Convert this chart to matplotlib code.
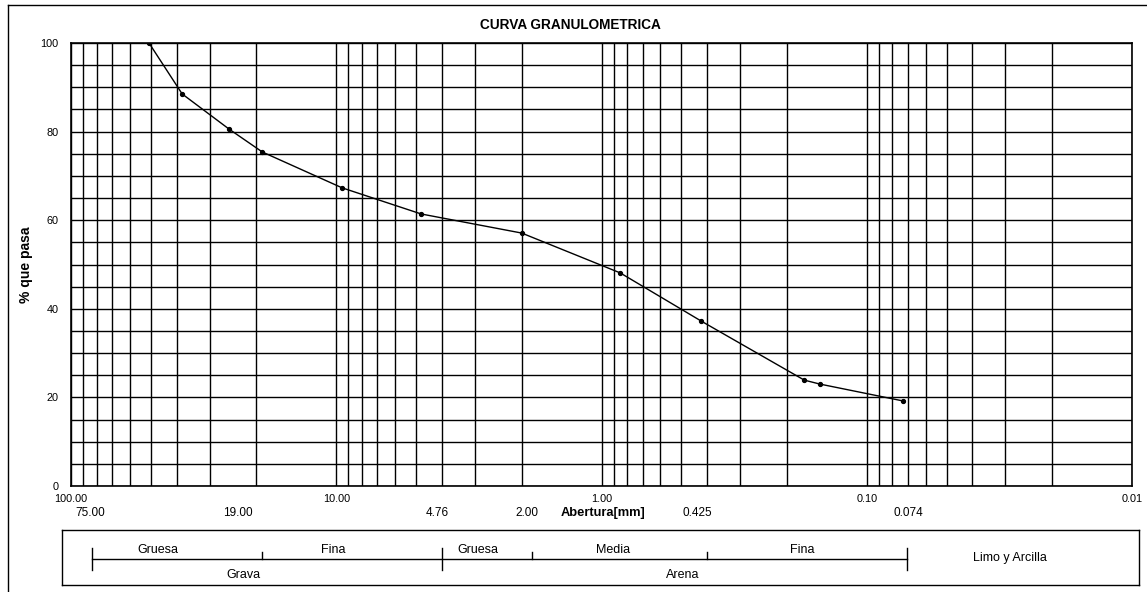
import matplotlib.pyplot as plt
import numpy as np
from matplotlib.lines import Line2D
from matplotlib.ticker import FixedLocator, NullFormatter, FuncFormatter

plt.rcParams['font.family'] = ['Liberation Sans', 'DejaVu Sans']

# abertura de tamiz (mm) y % que pasa
abertura = [50.8, 38.1, 25.4, 19.0, 9.5, 4.78, 2.00, 0.85, 0.42, 0.172, 0.150, 0.073]
pasa = [100.0, 88.5, 80.6, 75.4, 67.3, 61.4, 57.1, 48.1, 37.2, 23.9, 23.0, 19.2]

# etiquetas de tamices bajo el eje
tamiz_txt = ['75.00', '19.00', '4.76', '2.00', '0.425', '0.074']
tamiz_px = [90, 238, 437, 527, 697, 908]

# clasificación (esquema de la caja inferior)
sub_txt = ['Gruesa', 'Fina', 'Gruesa', 'Media', 'Fina']
sub_px = [158, 333, 478, 613, 802]
grupo_txt = ['Grava', 'Arena']
grupo_px = [243, 683]
limites_altos = [92, 442, 907]
limites_bajos = [262, 532, 707]

W, H = 1147, 592
fig = plt.figure(figsize=(W / 100, H / 100), dpi=100)

L, R, T, B = 71, 1132, 43, 486
ax = fig.add_axes([L / W, (H - B) / H, (R - L) / W, (B - T) / H])
ax.plot(abertura, pasa, color='black', lw=1.0, marker='o', ms=2.8, zorder=3)

ax.set_xscale('log')
ax.set_xlim(100, 0.01)
ax.set_ylim(0, 100)
ax.xaxis.set_major_locator(FixedLocator([100, 10, 1, 0.1, 0.01]))
ax.xaxis.set_major_formatter(FuncFormatter(lambda v, p: f'{v:.2f}'))
ax.xaxis.set_minor_locator(FixedLocator(
    [m * 10.0 ** e for e in range(-2, 2) for m in range(2, 10)]))
ax.xaxis.set_minor_formatter(NullFormatter())
ax.set_yticks(np.arange(0, 101, 20))
ax.set_yticks(np.arange(0, 101, 5), minor=True)
ax.grid(True, which='both', color='black', lw=1.0)
ax.tick_params(which='both', length=0, labelsize=7.8)
ax.tick_params(axis='x', pad=6)
ax.tick_params(axis='y', pad=9)
for s in ax.spines.values():
    s.set_color('black')
    s.set_linewidth(1.2)

ax.set_ylabel('% que pasa', fontsize=10, fontweight='bold')
ax.yaxis.set_label_coords((33 - L) / (R - L), 0.5)

# segunda fila de etiquetas
y2 = (B - 513) / (B - T)
for t, px in zip(tamiz_txt, tamiz_px):
    ax.text((px - L) / (R - L), y2, t, transform=ax.transAxes, ha='center',
            va='center', fontsize=8.5)
ax.text((603 - L) / (R - L), y2, 'Abertura[mm]', transform=ax.transAxes,
        ha='center', va='center', fontsize=9.3, fontweight='bold')

fig.text(570 / W, 1 - 25 / H, 'CURVA GRANULOMETRICA', ha='center', va='center',
         fontsize=9.8, fontweight='bold')

# caja de clasificación
bx0, bx1, by0, by1 = 62, 1139, 530, 585
bx = fig.add_axes([bx0 / W, (H - by1) / H, (bx1 - bx0) / W, (by1 - by0) / H])
bx.set_xlim(bx0, bx1)
bx.set_ylim(by1, by0)
bx.set_xticks([])
bx.set_yticks([])
for s in bx.spines.values():
    s.set_color('black')
    s.set_linewidth(1.0)
bx.plot([limites_altos[0], limites_altos[-1]], [559, 559], color='black', lw=1.0)
for x in limites_altos:
    bx.plot([x, x], [548, 570], color='black', lw=1.0)
for x in limites_bajos:
    bx.plot([x, x], [552, 559], color='black', lw=1.0)
for t, px in zip(sub_txt, sub_px):
    bx.text(px, 550, t, ha='center', va='center', fontsize=9)
for t, px in zip(grupo_txt, grupo_px):
    bx.text(px, 575, t, ha='center', va='center', fontsize=9)
bx.text(1010, 558, 'Limo y Arcilla', ha='center', va='center', fontsize=9)

# marco exterior
fig.add_artist(Line2D([8 / W, 8 / W], [0, 1 - 5 / H], color='black', lw=1.0))
fig.add_artist(Line2D([8 / W, 1], [1 - 5 / H, 1 - 5 / H], color='black', lw=1.0))

fig.savefig('out.png', dpi=100)
